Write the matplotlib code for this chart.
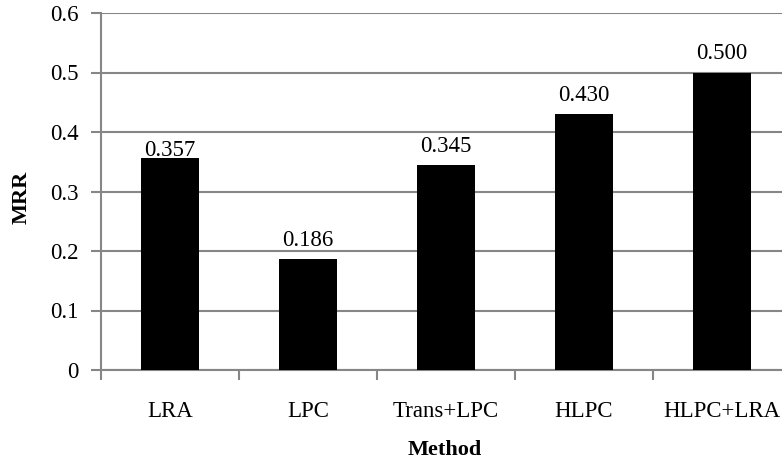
import matplotlib.pyplot as plt

methods = ['LRA', 'LPC', 'Trans+LPC', 'HLPC', 'HLPC+LRA']
mrr = [0.357, 0.186, 0.345, 0.430, 0.500]
yticks = [0, 0.1, 0.2, 0.3, 0.4, 0.5, 0.6]

plt.rcParams['font.family'] = ['Liberation Serif', 'DejaVu Serif']
grey = '#868686'
fs = 16.5
# label gap above each bar (points); the first one sits on its bar as in the original
label_gap = [1.5, 9.5, 9.5, 9.5, 9.5]

fig = plt.figure(figsize=(7.82, 4.62), dpi=100)
W, H = 782, 462
ax = fig.add_axes([101 / W, (H - 370) / H, 690 / W, 357 / H])

x = range(len(methods))
ax.bar(x, mrr, width=0.42, color='black', zorder=3)
for i, v in enumerate(mrr):
    ax.annotate('%.3f' % v, (i, v), xytext=(0, label_gap[i]), textcoords='offset points',
                ha='center', va='baseline', fontsize=fs, zorder=4)

ax.set_xlim(-0.5, len(methods) - 0.5)
ax.set_ylim(0, 0.6)
ax.set_yticks(yticks)
ax.set_yticklabels(['0', '0.1', '0.2', '0.3', '0.4', '0.5', '0.6'], fontsize=fs)
ax.set_xticks([i - 0.5 for i in range(len(methods) + 1)])
ax.set_xticklabels([])
ax.set_xticks(list(x), minor=True)
ax.set_xticklabels(methods, minor=True, fontsize=fs)
ax.tick_params(axis='x', which='minor', length=0, pad=22)
ax.tick_params(axis='x', which='major', length=7, width=1.5, color=grey)
ax.tick_params(axis='y', length=7, width=1.5, color=grey, pad=9)
ax.yaxis.grid(True, color=grey, linewidth=1.5, zorder=0)

for s in ['top', 'right']:
    ax.spines[s].set_visible(False)
for s in ['left', 'bottom']:
    ax.spines[s].set_color(grey)
    ax.spines[s].set_linewidth(1.5)

fig.text(22 / W, 1 - 197 / H, 'MRR', rotation=90, fontsize=16, fontweight='bold',
         ha='center', va='center')
fig.text(445 / W, 1 - 450 / H, 'Method', fontsize=16, fontweight='bold',
         ha='center', va='center')

fig.savefig('out.png', dpi=100)
